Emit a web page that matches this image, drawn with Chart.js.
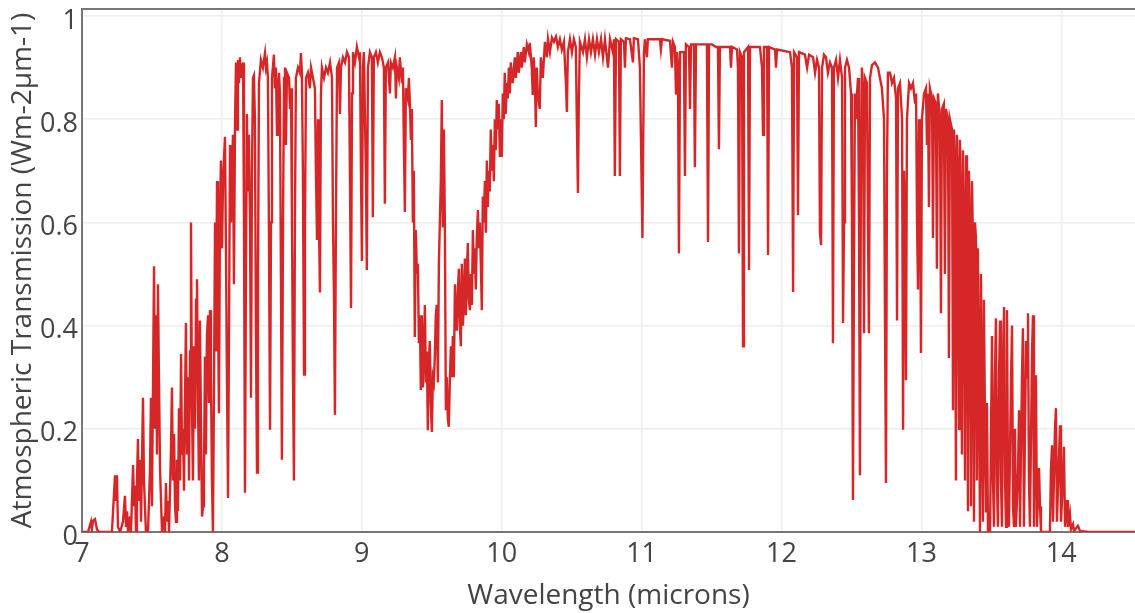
<!DOCTYPE html>
<html lang="en">
<head>
    <meta charset="UTF-8">
    <title>Atmospheric Transmission</title>
    <script src="https://cdn.jsdelivr.net/npm/chart.js"></script>
</head>
<style>
    body { margin: 0; background: #fff; }
    #spectrum { display: block; }
</style>
<body>
    <canvas id="spectrum" width="1135" height="613"></canvas>

    <script>
        // wavelength (microns) and transmission
        var wavelength = [
            // 7.0 - 7.95
            7.000, 7.043, 7.064, 7.071, 7.079, 7.093, 7.107, 7.122, 7.214, 7.222,
            7.236, 7.243, 7.250, 7.257, 7.272, 7.293, 7.307, 7.315, 7.322, 7.329,
            7.343, 7.350, 7.365, 7.372, 7.379, 7.386, 7.393, 7.400, 7.407, 7.415,
            7.422, 7.436, 7.443, 7.450, 7.457, 7.472, 7.486, 7.493, 7.500, 7.508,
            7.515, 7.522, 7.529, 7.536, 7.543, 7.550, 7.558, 7.572, 7.586, 7.593,
            7.600, 7.608, 7.615, 7.622, 7.636, 7.643, 7.650, 7.658, 7.665, 7.672,
            7.679, 7.686, 7.693, 7.701, 7.708, 7.715, 7.722, 7.729, 7.736, 7.743,
            7.751, 7.758, 7.765, 7.772, 7.779, 7.786, 7.793, 7.801, 7.808, 7.815,
            7.822, 7.829, 7.836, 7.843, 7.851, 7.858, 7.865, 7.872, 7.879, 7.886,
            7.893, 7.901, 7.908, 7.915, 7.922, 7.929, 7.936,
            // 7.95 - 9.42
            7.944, 7.951, 7.958, 7.965, 7.972, 7.979, 7.986, 7.993, 8.001, 8.008,
            8.022, 8.029, 8.036, 8.044, 8.051, 8.058, 8.065, 8.079, 8.086, 8.094,
            8.101, 8.108, 8.115, 8.122, 8.129, 8.136, 8.144, 8.151, 8.158, 8.165,
            8.172, 8.179, 8.186, 8.193, 8.201, 8.208, 8.215, 8.222, 8.229, 8.236,
            8.243, 8.251, 8.258, 8.265, 8.279, 8.293, 8.308, 8.315, 8.322, 8.329,
            8.336, 8.344, 8.351, 8.358, 8.372, 8.379, 8.386, 8.394, 8.401, 8.408,
            8.415, 8.422, 8.429, 8.437, 8.444, 8.451, 8.458, 8.465, 8.480, 8.487,
            8.494, 8.501, 8.508, 8.515, 8.522, 8.529, 8.544, 8.558, 8.565, 8.572,
            8.579, 8.587, 8.594, 8.601, 8.615, 8.629, 8.637, 8.651, 8.665, 8.672,
            8.680, 8.687, 8.694, 8.701, 8.708, 8.715, 8.730, 8.744, 8.758, 8.773,
            8.787, 8.794, 8.801, 8.808, 8.815, 8.823, 8.837, 8.844, 8.851, 8.865,
            8.880, 8.894, 8.908, 8.915, 8.923, 8.930, 8.937, 8.951, 8.965, 8.980,
            8.987, 8.994, 9.001, 9.008, 9.015, 9.029, 9.036, 9.044, 9.058, 9.072,
            9.079, 9.086, 9.101, 9.115, 9.129, 9.144, 9.158, 9.165, 9.172, 9.187,
            9.201, 9.208, 9.222, 9.237, 9.244, 9.251, 9.265, 9.272, 9.287, 9.294,
            9.301, 9.308, 9.315, 9.329, 9.337, 9.344, 9.351, 9.358, 9.365, 9.372,
            9.379, 9.386, 9.394, 9.401, 9.408, 9.415,
            // ozone band 9.42 - 10.27
            9.422, 9.429, 9.437, 9.444, 9.451, 9.458, 9.465, 9.472, 9.479, 9.486,
            9.494, 9.501, 9.508, 9.515, 9.522, 9.529, 9.536, 9.544, 9.551, 9.558,
            9.565, 9.572, 9.579, 9.587, 9.594, 9.601, 9.608, 9.615, 9.622, 9.630,
            9.637, 9.644, 9.651, 9.658, 9.666, 9.673, 9.680, 9.687, 9.694, 9.701,
            9.708, 9.715, 9.723, 9.730, 9.737, 9.744, 9.751, 9.758, 9.765, 9.773,
            9.780, 9.787, 9.794, 9.801, 9.808, 9.815, 9.822, 9.830, 9.837, 9.844,
            9.851, 9.858, 9.865, 9.872, 9.880, 9.887, 9.894, 9.901, 9.908, 9.915,
            9.922, 9.930, 9.937, 9.944, 9.951, 9.958, 9.965, 9.972, 9.979, 9.987,
            9.994, 10.001, 10.008, 10.015, 10.022, 10.029, 10.036, 10.044, 10.051, 10.058,
            10.065, 10.079, 10.094, 10.101, 10.115, 10.122, 10.137, 10.144, 10.158, 10.165,
            10.180, 10.194, 10.201, 10.215, 10.222, 10.229, 10.237, 10.244, 10.251, 10.258,
            10.272,
            // window 10.28 - 12.95
            10.280, 10.294, 10.309, 10.323, 10.331, 10.345, 10.359, 10.373, 10.388, 10.402,
            10.416, 10.430, 10.445, 10.459, 10.466, 10.473, 10.488, 10.502, 10.516, 10.530,
            10.537, 10.545, 10.552, 10.559, 10.581, 10.595, 10.609, 10.624, 10.638, 10.652,
            10.667, 10.681, 10.695, 10.710, 10.724, 10.738, 10.760, 10.774, 10.795, 10.802,
            10.809, 10.817, 10.838, 10.845, 10.852, 10.874, 10.881, 10.888, 10.917, 10.938,
            10.945, 10.974, 10.988, 11.006, 11.017, 11.024, 11.038, 11.045, 11.060, 11.131,
            11.138, 11.146, 11.203, 11.217, 11.224, 11.238, 11.246, 11.253, 11.260, 11.267,
            11.275, 11.303, 11.310, 11.317, 11.339, 11.346, 11.353, 11.374, 11.381, 11.389,
            11.417, 11.467, 11.475, 11.482, 11.503, 11.532, 11.546, 11.553, 11.560, 11.632,
            11.639, 11.646, 11.682, 11.689, 11.696, 11.703, 11.718, 11.725, 11.732, 11.761,
            11.768, 11.775, 11.846, 11.861, 11.868, 11.875, 11.897, 11.904, 11.911, 11.954,
            11.961, 11.968, 12.061, 12.075, 12.083, 12.090, 12.111, 12.118, 12.125, 12.168,
            12.183, 12.197, 12.226, 12.240, 12.254, 12.268, 12.275, 12.283, 12.290, 12.304,
            12.318, 12.332, 12.347, 12.361, 12.368, 12.375, 12.390, 12.404, 12.418, 12.433,
            12.440, 12.447, 12.454, 12.468, 12.483, 12.497, 12.504, 12.511, 12.518, 12.525,
            12.533, 12.540, 12.547, 12.554, 12.561, 12.568, 12.575, 12.583, 12.590, 12.597,
            12.611, 12.618, 12.625, 12.633, 12.647, 12.668, 12.690, 12.704, 12.718, 12.733,
            12.740, 12.747, 12.754, 12.761, 12.776, 12.790, 12.804, 12.819, 12.826, 12.833,
            12.847, 12.862, 12.869, 12.876, 12.883, 12.890, 12.897, 12.912, 12.926, 12.940,
            // CO2 edge 12.95 - 14.56
            12.955, 12.962, 12.969, 12.976, 12.983, 12.990, 12.997, 13.004, 13.019, 13.033,
            13.040, 13.047, 13.054, 13.061, 13.076, 13.083, 13.090, 13.104, 13.111, 13.118,
            13.133, 13.140, 13.147, 13.161, 13.168, 13.176, 13.190, 13.197, 13.204, 13.219,
            13.226, 13.233, 13.240, 13.247, 13.254, 13.261, 13.269, 13.276, 13.283, 13.290,
            13.297, 13.304, 13.312, 13.319, 13.326, 13.333, 13.340, 13.347, 13.355, 13.362,
            13.369, 13.376, 13.383, 13.390, 13.397, 13.404, 13.412, 13.419, 13.426, 13.433,
            13.440, 13.447, 13.455, 13.462, 13.469, 13.476, 13.491, 13.498, 13.505, 13.512,
            13.519, 13.526, 13.533, 13.540, 13.547, 13.555, 13.562, 13.569, 13.576, 13.583,
            13.591, 13.598, 13.605, 13.612, 13.619, 13.626, 13.641, 13.648, 13.655, 13.662,
            13.669, 13.676, 13.691, 13.698, 13.705, 13.719, 13.726, 13.733, 13.748, 13.755,
            13.762, 13.769, 13.776, 13.791, 13.798, 13.805, 13.812, 13.819, 13.826, 13.841,
            13.848, 13.855, 13.919, 13.926, 13.934, 13.941, 13.955, 13.962, 13.969, 13.984,
            13.991, 13.998, 14.012, 14.019, 14.027, 14.041, 14.048, 14.062, 14.069, 14.084,
            14.091, 14.119, 14.134, 14.191, 14.563
        ];

        var transmission = [
            // 7.0 - 7.95
            0, 0, 0.02, 0.005, 0.022, 0.025, 0.005, 0, 0, 0.04,
            0.11, 0.06, 0.11, 0.01, 0, 0.02, 0.07, 0.01, 0.04, 0,
            0.03, 0, 0.13, 0.05, 0.09, 0, 0.1, 0.18, 0.06, 0.14,
            0.02, 0.26, 0.1, 0.05, 0, 0, 0.12, 0.26, 0.05, 0.3,
            0.515, 0.2, 0.42, 0.15, 0.48, 0.3, 0.12, 0, 0.03, 0,
            0.095, 0.02, 0.06, 0, 0.16, 0.28, 0.1, 0.19, 0.05, 0.02,
            0.14, 0.04, 0.24, 0.1, 0.345, 0.15, 0.2, 0.08, 0.25, 0.405,
            0.15, 0.3, 0.1, 0.35, 0.6, 0.25, 0.1, 0.36, 0.2, 0.45,
            0.49, 0.25, 0.1, 0.41, 0.2, 0.03, 0.05, 0.12, 0.34, 0.15,
            0.38, 0.42, 0.25, 0.43, 0.3, 0.1, 0,
            // 7.95 - 9.42
            0.3, 0.6, 0.35, 0.68, 0.45, 0.23, 0.6, 0.72, 0.55, 0.68,
            0.766, 0.55, 0.3, 0.066, 0.4, 0.75, 0.6, 0.77, 0.48, 0.8,
            0.91, 0.78, 0.915, 0.87, 0.92, 0.88, 0.9, 0.91, 0.6, 0.076,
            0.5, 0.81, 0.66, 0.77, 0.6, 0.26, 0.7, 0.88, 0.885, 0.8,
            0.4, 0.115, 0.5, 0.87, 0.915, 0.9, 0.928, 0.9, 0.91, 0.88,
            0.6, 0.198, 0.6, 0.88, 0.925, 0.86, 0.9, 0.77, 0.86, 0.89,
            0.85, 0.5, 0.14, 0.6, 0.88, 0.9, 0.75, 0.89, 0.88, 0.82,
            0.86, 0.6, 0.3, 0.1, 0.6, 0.88, 0.9, 0.89, 0.928, 0.89,
            0.7, 0.305, 0.6, 0.88, 0.89, 0.86, 0.9, 0.88, 0.86, 0.7,
            0.566, 0.8, 0.6, 0.464, 0.85, 0.9, 0.88, 0.9, 0.89, 0.91,
            0.88, 0.6, 0.46, 0.227, 0.6, 0.9, 0.91, 0.81, 0.9, 0.92,
            0.91, 0.93, 0.92, 0.7, 0.434, 0.85, 0.93, 0.91, 0.94, 0.92,
            0.93, 0.7, 0.525, 0.9, 0.93, 0.7, 0.508, 0.9, 0.93, 0.92,
            0.61, 0.92, 0.93, 0.91, 0.93, 0.92, 0.9, 0.636, 0.9, 0.91,
            0.85, 0.91, 0.9, 0.92, 0.84, 0.9, 0.88, 0.92, 0.87, 0.9,
            0.75, 0.62, 0.86, 0.84, 0.88, 0.83, 0.76, 0.82, 0.6, 0.7,
            0.378, 0.585, 0.5, 0.52, 0.366, 0.42,
            // ozone band 9.42 - 10.27
            0.275, 0.42, 0.28, 0.36, 0.44, 0.29, 0.35, 0.197, 0.33, 0.37,
            0.24, 0.194, 0.3, 0.29, 0.34, 0.42, 0.44, 0.29, 0.52, 0.6,
            0.68, 0.837, 0.59, 0.78, 0.59, 0.236, 0.3, 0.22, 0.204, 0.3,
            0.36, 0.3, 0.38, 0.3, 0.48, 0.42, 0.39, 0.47, 0.51, 0.4,
            0.36, 0.52, 0.4, 0.45, 0.53, 0.42, 0.5, 0.56, 0.45, 0.43,
            0.5, 0.44, 0.585, 0.5, 0.55, 0.47, 0.57, 0.624, 0.55, 0.6,
            0.52, 0.43, 0.65, 0.6, 0.68, 0.58, 0.72, 0.63, 0.7, 0.66,
            0.78, 0.7, 0.75, 0.68, 0.8, 0.74, 0.837, 0.78, 0.83, 0.727,
            0.8, 0.727, 0.85, 0.8, 0.89, 0.81, 0.87, 0.84, 0.9, 0.85,
            0.91, 0.87, 0.92, 0.88, 0.93, 0.89, 0.93, 0.9, 0.94, 0.91,
            0.945, 0.93, 0.948, 0.9, 0.847, 0.92, 0.88, 0.785, 0.9, 0.85,
            0.82,
            // window 10.28 - 12.95
            0.92, 0.88, 0.95, 0.92, 0.955, 0.93, 0.958, 0.95, 0.96, 0.94,
            0.955, 0.935, 0.95, 0.87, 0.814, 0.93, 0.955, 0.93, 0.955, 0.94,
            0.8, 0.657, 0.85, 0.95, 0.93, 0.955, 0.92, 0.955, 0.93, 0.955,
            0.925, 0.955, 0.93, 0.955, 0.92, 0.955, 0.9, 0.955, 0.93, 0.955,
            0.69, 0.955, 0.95, 0.69, 0.955, 0.95, 0.9, 0.957, 0.955, 0.91,
            0.957, 0.955, 0.9, 0.57, 0.93, 0.955, 0.92, 0.955, 0.955, 0.955,
            0.935, 0.955, 0.952, 0.9, 0.95, 0.94, 0.85, 0.93, 0.9, 0.54,
            0.93, 0.93, 0.69, 0.945, 0.94, 0.82, 0.945, 0.945, 0.707, 0.945,
            0.945, 0.945, 0.562, 0.945, 0.945, 0.94, 0.94, 0.742, 0.94, 0.94,
            0.9, 0.94, 0.935, 0.9, 0.54, 0.93, 0.92, 0.36, 0.93, 0.94,
            0.508, 0.94, 0.94, 0.9, 0.77, 0.94, 0.94, 0.537, 0.94, 0.935,
            0.9, 0.935, 0.93, 0.9, 0.465, 0.93, 0.92, 0.614, 0.93, 0.925,
            0.9, 0.925, 0.92, 0.89, 0.915, 0.9, 0.58, 0.556, 0.9, 0.925,
            0.92, 0.89, 0.91, 0.9, 0.366, 0.9, 0.915, 0.88, 0.915, 0.88,
            0.405, 0.6, 0.9, 0.915, 0.9, 0.85, 0.6, 0.062, 0.5, 0.85,
            0.8, 0.85, 0.88, 0.6, 0.11, 0.7, 0.9, 0.85, 0.385, 0.88,
            0.87, 0.6, 0.385, 0.88, 0.905, 0.91, 0.9, 0.88, 0.86, 0.8,
            0.4, 0.095, 0.7, 0.89, 0.89, 0.87, 0.88, 0.84, 0.41, 0.86,
            0.87, 0.8, 0.198, 0.7, 0.6, 0.294, 0.8, 0.87, 0.86, 0.87,
            // CO2 edge 12.95 - 14.56
            0.83, 0.85, 0.6, 0.47, 0.8, 0.75, 0.347, 0.8, 0.85, 0.86,
            0.75, 0.85, 0.63, 0.86, 0.84, 0.57, 0.84, 0.83, 0.51, 0.85,
            0.8, 0.424, 0.82, 0.83, 0.5, 0.82, 0.8, 0.337, 0.8, 0.78,
            0.236, 0.78, 0.7, 0.1, 0.77, 0.7, 0.2, 0.76, 0.6, 0.15,
            0.74, 0.6, 0.1, 0.73, 0.7, 0.04, 0.7, 0.6, 0.05, 0.68,
            0.55, 0.02, 0.6, 0.57, 0.1, 0.55, 0.3, 0, 0.5, 0.25,
            0.02, 0.45, 0.2, 0.04, 0.25, 0, 0, 0.2, 0.38, 0.1,
            0.01, 0.3, 0.414, 0.1, 0.01, 0.3, 0.41, 0.1, 0.01, 0.3,
            0.436, 0.1, 0.01, 0.43, 0.1, 0.01, 0.3, 0.4, 0.05, 0.01,
            0.2, 0.01, 0.12, 0.236, 0.01, 0.3, 0.395, 0.01, 0.37, 0.3,
            0.424, 0.1, 0.01, 0.35, 0.42, 0.01, 0.2, 0.304, 0.01, 0.124,
            0.05, 0, 0, 0.12, 0.168, 0.02, 0.2, 0.24, 0.02, 0.15,
            0.207, 0.02, 0.1, 0.165, 0.01, 0.062, 0.01, 0.035, 0.005, 0.015,
            0.002, 0.012, 0.002, 0, 0
        ];

        var xTicks = [7, 8, 9, 10, 11, 12, 13, 14];
        var yTicks = [0, 0.2, 0.4, 0.6, 0.8, 1];
        var yTickLabels = ['0', '0.2', '0.4', '0.6', '0.8', '1'];

        var points = wavelength.map(function(w, i) {
            return { x: w, y: transmission[i] };
        });

        var tickFont = { family: 'Open Sans', size: 27 };
        var titleFont = { family: 'Open Sans', size: 28 };

        // top frame line like the original plot
        var frameTop = {
            id: 'frameTop',
            beforeDatasetsDraw: function(chart) {
                var a = chart.chartArea;
                var ctx = chart.ctx;
                ctx.save();
                ctx.strokeStyle = '#777';
                ctx.lineWidth = 2;
                ctx.beginPath();
                ctx.moveTo(a.left, a.top);
                ctx.lineTo(a.right, a.top);
                ctx.stroke();
                ctx.restore();
            }
        };

        var ctx = document.getElementById('spectrum').getContext('2d');
        var chart = new Chart(ctx, {
            type: 'line',
            data: {
                datasets: [{
                    data: points,
                    borderColor: 'rgb(214, 39, 40)',
                    borderWidth: 2.4,
                    pointRadius: 0,
                    tension: 0,
                    fill: false
                }]
            },
            options: {
                responsive: false,
                animation: false,
                devicePixelRatio: 1,
                layout: { padding: { top: 9, right: 0, left: 0, bottom: 0 } },
                plugins: {
                    legend: { display: false },
                    tooltip: { enabled: false }
                },
                scales: {
                    x: {
                        type: 'linear',
                        min: 7,
                        max: 14.527,
                        afterBuildTicks: function(scale) {
                            scale.ticks = xTicks.map(function(v) { return { value: v }; });
                        },
                        afterFit: function(scale) {
                            scale.height = 81;
                            scale.paddingLeft = 0;
                            scale.paddingRight = 0;
                        },
                        grid: { color: '#eeeeee', lineWidth: 1.5, drawTicks: false },
                        border: { color: '#777', width: 2 },
                        ticks: {
                            font: tickFont,
                            color: '#444',
                            padding: 6,
                            autoSkip: false,
                            maxRotation: 0
                        },
                        title: {
                            display: true,
                            text: 'Wavelength (microns)',
                            font: titleFont,
                            color: '#444',
                            padding: { top: 0, bottom: 0 }
                        }
                    },
                    y: {
                        min: 0,
                        max: 1.0136,
                        afterBuildTicks: function(scale) {
                            scale.ticks = yTicks.map(function(v) { return { value: v }; });
                        },
                        afterFit: function(scale) {
                            scale.width = 82;
                            scale.paddingTop = 0;
                            scale.paddingBottom = 0;
                        },
                        grid: { color: '#eeeeee', lineWidth: 1.5, drawTicks: false },
                        border: { color: '#777', width: 2 },
                        ticks: {
                            font: tickFont,
                            color: '#444',
                            padding: 4,
                            labelOffset: 5,
                            autoSkip: false,
                            callback: function(value, index) {
                                return yTickLabels[index];
                            }
                        },
                        title: {
                            display: true,
                            text: 'Atmospheric Transmission (Wm-2µm-1)',
                            font: titleFont,
                            color: '#444',
                            padding: { top: 6, bottom: 0 }
                        }
                    }
                }
            },
            plugins: [frameTop]
        });
    </script>
</body>
</html>
